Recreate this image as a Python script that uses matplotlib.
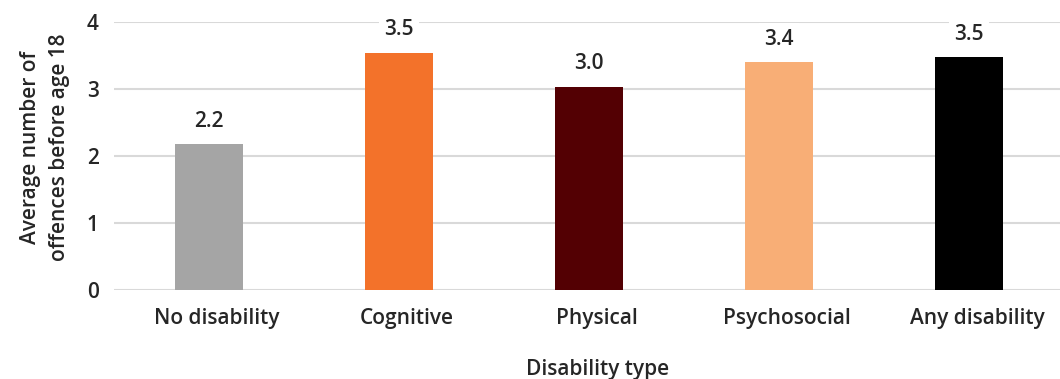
import matplotlib
matplotlib.use("Agg")
import matplotlib.pyplot as plt
from matplotlib.transforms import ScaledTranslation

categories = ["No disability", "Cognitive", "Physical", "Psychosocial", "Any disability"]
values = [2.17, 3.54, 3.03, 3.40, 3.47]
bar_colors = ["#A5A5A5", "#F3722A", "#530003", "#F8AE76", "#000000"]
y_ticks = [0, 1, 2, 3, 4]

plt.rcParams["font.family"] = ["Open Sans", "DejaVu Sans"]
text_color = "#262626"
fs = 15

fig = plt.figure(figsize=(10.6, 3.79), dpi=100)
W, H = 1060, 379
left, right, top, bottom = 114, 1060, 22, 289.5
ax = fig.add_axes([left / W, (H - bottom) / H, (right - left) / W, (bottom - top) / H])

x = list(range(len(categories)))
ax.bar(x, values, width=0.358, color=bar_colors, zorder=3)

for xi, v in zip(x, values):
    ax.annotate(f"{v:.1f}", (xi, v), xytext=(0, 16.5), textcoords="offset points",
                ha="center", va="center", fontsize=fs, fontweight="semibold",
                color=text_color, zorder=4,
                bbox=dict(boxstyle="square,pad=0.25", fc="white", ec="none"))

ax.set_ylim(0, 4)
ax.set_xlim(-0.5, (right - 209) / 190)
ax.set_yticks(y_ticks)
ax.set_xticks(x)
ax.set_xticklabels(categories)
ax.grid(axis="y", color="#D9D9D9", linewidth=1.5, zorder=0)
ax.set_axisbelow(True)
for s in ax.spines.values():
    s.set_visible(False)
ax.tick_params(axis="both", length=0, labelsize=fs, labelcolor=text_color)
ax.tick_params(axis="y", pad=11)
ax.tick_params(axis="x", pad=13)
for lbl in ax.get_xticklabels() + ax.get_yticklabels():
    lbl.set_fontweight("semibold")

# category labels sit slightly right of the bar centres
shift = ScaledTranslation(8 / 100, 0, fig.dpi_scale_trans)
for lbl in ax.get_xticklabels():
    lbl.set_transform(lbl.get_transform() + shift)

ax.set_xlabel("Disability type", fontsize=fs, fontweight="semibold", color=text_color, labelpad=22)
ax.xaxis.label.set_x(0.511)
ax.set_ylabel("Average number of\noffences before age 18", fontsize=fs, fontweight="semibold",
              color=text_color, labelpad=12, linespacing=1.5)
ax.yaxis.label.set_y(0.53)

fig.savefig("out.png", dpi=100)
